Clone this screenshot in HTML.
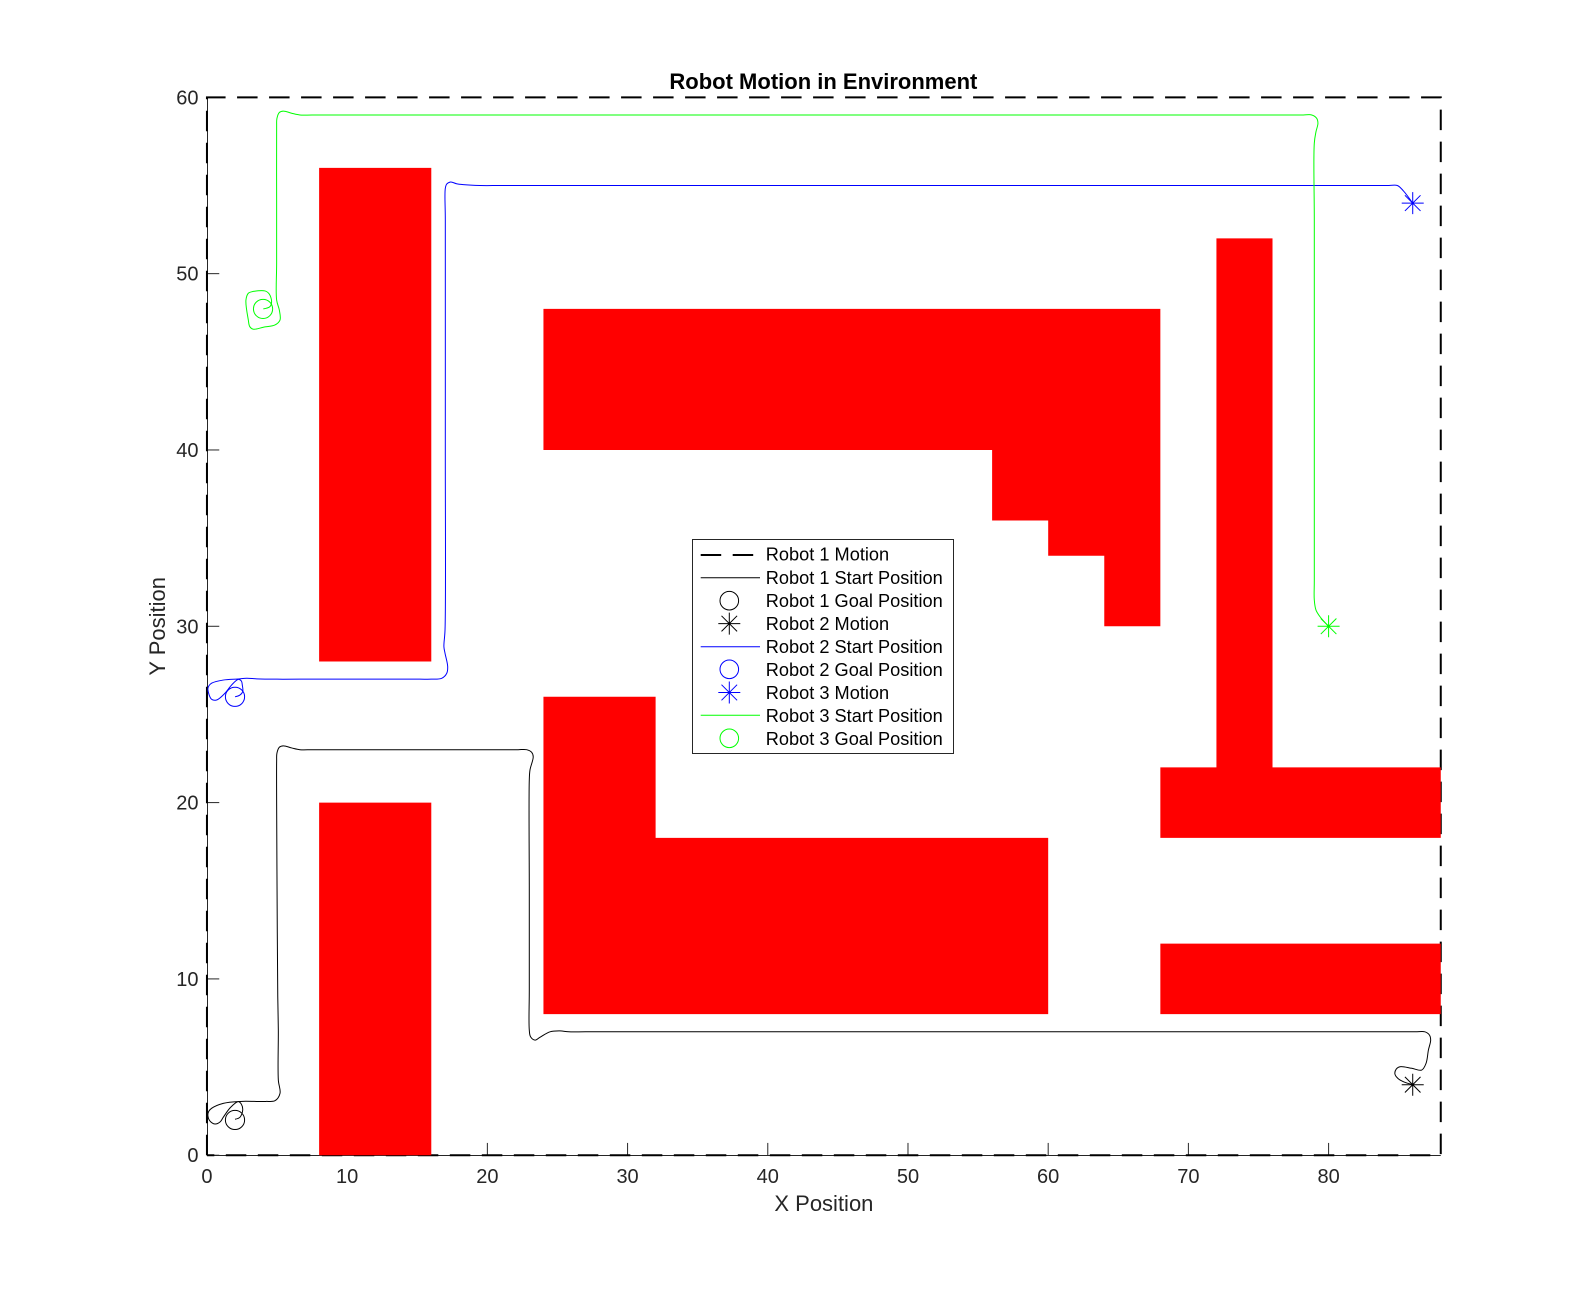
<!DOCTYPE html>
<html lang="en">
<head>
<meta charset="utf-8">
<title>Robot Motion in Environment</title>
<style>
html,body{margin:0;padding:0;background:#fff;}
svg{display:block;position:absolute;left:0;top:0;font-family:"Liberation Sans",Arial,sans-serif;}
</style>
</head>
<body>
<svg id="chart" xmlns="http://www.w3.org/2000/svg" width="1592" height="1298" viewBox="0 0 1592 1298">
<rect x="0" y="0" width="1592" height="1298" fill="#fff"/>
<g id="axes-layer"></g>
<g id="boundary-layer"></g>
<g id="obstacle-layer"></g>
<g id="path-layer"></g>
<g id="marker-layer"></g>
<text x="823.4" y="89" font-size="22" font-weight="bold" text-anchor="middle" fill="#000">Robot Motion in Environment</text>
<text x="823.9" y="1211" font-size="22" text-anchor="middle" fill="#262626">X Position</text>
<text transform="translate(165,626.3) rotate(-90)" font-size="22" text-anchor="middle" fill="#262626">Y Position</text>
<g font-size="18.2" fill="#000">
<rect x="692.5" y="539.5" width="261" height="214" fill="#fff" stroke="#262626" stroke-width="1"/>
<g>
<line x1="700.7" x2="760" y1="555" y2="555" stroke="#000" stroke-width="2" stroke-dasharray="20.5 11.5"/>
<text x="765.8" y="560.7">Robot 1 Motion</text>
</g>
<g>
<line x1="700.7" x2="760" y1="577.7" y2="577.7" stroke="#000" stroke-width="1"/>
<text x="765.8" y="584.2">Robot 1 Start Position</text>
</g>
<g>
<circle cx="729.3" cy="600.7" r="9.3" fill="none" stroke="#000" stroke-width="1"/>
<text x="765.8" y="607.2">Robot 1 Goal Position</text>
</g>
<g>
<path d="M718.3 623.6H740.3M729.3 612.6V634.6M721.5 615.8L737.1 631.4M721.5 631.4L737.1 615.8" stroke="#000" stroke-width="1" fill="none"/>
<text x="765.8" y="630.1">Robot 2 Motion</text>
</g>
<g>
<line x1="700.7" x2="760" y1="646.7" y2="646.7" stroke="#00f" stroke-width="1"/>
<text x="765.8" y="653.2">Robot 2 Start Position</text>
</g>
<g>
<circle cx="729.3" cy="669.3" r="9.3" fill="none" stroke="#00f" stroke-width="1"/>
<text x="765.8" y="675.8">Robot 2 Goal Position</text>
</g>
<g>
<path d="M718.3 692.5H740.3M729.3 681.5V703.5M721.5 684.7L737.1 700.3M721.5 700.3L737.1 684.7" stroke="#00f" stroke-width="1" fill="none"/>
<text x="765.8" y="699">Robot 3 Motion</text>
</g>
<g>
<line x1="700.7" x2="760" y1="715.3" y2="715.3" stroke="#0f0" stroke-width="1"/>
<text x="765.8" y="721.8">Robot 3 Start Position</text>
</g>
<g>
<circle cx="729.3" cy="738.3" r="9.3" fill="none" stroke="#0f0" stroke-width="1"/>
<text x="765.8" y="744.8">Robot 3 Goal Position</text>
</g>
</g>
</svg>
<script>
var xTicks = [0, 10, 20, 30, 40, 50, 60, 70, 80];
var yTicks = [0, 10, 20, 30, 40, 50, 60];
var xLimits = [0, 88];
var yLimits = [0, 60];

var boundaryX = [0, 0, 88, 88, 0];
var boundaryY = [0, 60, 60, 0, 0];

var obstacleLeftTopX = [8, 16, 16, 8];
var obstacleLeftTopY = [28, 28, 56, 56];
var obstacleLeftBottomX = [8, 16, 16, 8];
var obstacleLeftBottomY = [0, 0, 20, 20];
var obstacleUpperX = [24, 68, 68, 64, 64, 60, 60, 56, 56, 24];
var obstacleUpperY = [48, 48, 30, 30, 34, 34, 36, 36, 40, 40];
var obstacleLowerX = [24, 32, 32, 60, 60, 24];
var obstacleLowerY = [26, 26, 18, 18, 8, 8];
var obstacleTeeX = [72, 76, 76, 88, 88, 68, 68, 72];
var obstacleTeeY = [52, 52, 22, 22, 18, 18, 22, 22];
var obstacleRightBottomX = [68, 88, 88, 68];
var obstacleRightBottomY = [12, 12, 8, 8];

var robot1PathX = [86, 85.33, 84.95, 84.73, 84.82, 85.09, 85.93, 86.64, 86.95, 87.12, 87.28, 87.19, 86.87, 86.2, 85, 82, 76, 60, 40, 30, 27, 25.8, 25.18, 24.47, 23.75, 23.4, 23.08, 22.99, 22.99, 22.99, 22.99, 23.04, 23.27, 23.16, 22.8, 22.2, 21.2, 19, 15, 9, 7.5, 6.63, 6.04, 5.44, 5.16, 4.99, 4.97, 4.97, 5.0, 5.05, 5.09, 5.09, 5.21, 4.85, 4.2, 3.54, 2.35, 1.16, 0.33, 0.12, 0.07, 0.2, 0.57, 0.95, 1.16, 1.69, 2.23, 2.45, 2.55, 2.35, 2.0];
var robot1PathY = [4, 4.17, 4.35, 4.61, 4.88, 5.02, 4.93, 4.83, 5.21, 5.97, 6.53, 6.82, 7.0, 7.0, 7.0, 7.0, 7.0, 7.0, 7.0, 7.0, 7.0, 7.0, 7.05, 7.0, 6.69, 6.53, 6.72, 7.1, 9.37, 15, 21.28, 21.85, 22.6, 22.85, 23.0, 23.0, 23.0, 23.0, 23.0, 23.0, 23.0, 23.0, 23.1, 23.22, 23.14, 22.8, 22.34, 20, 15, 9, 7.1, 4.27, 3.51, 3.09, 3.05, 3.05, 3.05, 2.94, 2.66, 2.48, 2.22, 1.95, 1.77, 1.9, 2.15, 2.72, 3.04, 2.9, 2.56, 2.15, 2.04];

var robot2PathX = [86, 85.33, 84.9, 84.3, 83, 80, 70, 50, 30, 25, 21, 19.47, 18.28, 17.8, 17.38, 17.1, 17.0, 17.0, 17.0, 16.98, 16.9, 16.98, 17.17, 17.1, 16.74, 16.0, 15.19, 13, 10, 6.63, 5, 3.54, 2.83, 2.23, 1.16, 0.33, 0.12, 0.07, 0.33, 0.69, 1.28, 1.76, 2.23, 2.45, 2.52, 2.55, 2.35, 2.0];
var robot2PathY = [54, 54.7, 55.0, 55.0, 55, 55, 55, 55, 55, 55, 55, 55.0, 55.05, 55.1, 55.2, 55.08, 54.84, 53.05, 40, 29.8, 28.84, 28.47, 27.71, 27.33, 27.05, 27.0, 27.0, 27, 27, 27.0, 27.0, 27.02, 27.05, 27.01, 26.95, 26.77, 26.6, 26.39, 25.86, 25.82, 26.2, 26.67, 26.99, 26.9, 26.67, 26.29, 26.1, 26.0];

var robot3PathX = [80, 79.39, 79.1, 78.98, 78.98, 78.98, 78.98, 78.98, 79.1, 79.24, 79.15, 78.8, 78.2, 77, 74, 60, 40, 20, 10, 7.5, 6.63, 6.04, 5.44, 5.16, 4.99, 4.97, 4.97, 4.97, 4.97, 5.16, 5.21, 4.85, 4.02, 3.3, 3.05, 2.95, 2.78, 2.95, 3.19, 4.14, 4.44, 4.61, 4.49, 4.02];
var robot3PathY = [30, 30.54, 30.92, 31.49, 32.62, 45, 53.05, 57.4, 58.05, 58.53, 58.81, 59.0, 59.0, 59.0, 59, 59, 59, 59, 59, 59, 59.0, 59.1, 59.22, 59.14, 58.8, 58.34, 54, 50.6, 48.5, 47.94, 47.37, 47.09, 46.96, 46.85, 47.0, 47.37, 48.5, 48.89, 48.97, 49.02, 48.85, 48.41, 48.13, 48.0];

var robotStartX = [86, 86, 80];
var robotStartY = [4, 54, 30];
var robotGoalX = [2, 2, 4];
var robotGoalY = [2, 26, 48];
var robotNames = ['robot-1', 'robot-2', 'robot-3'];

var NS = 'http://www.w3.org/2000/svg';
var plotLeft = 206.96, plotRight = 1440.76, plotTop = 97.34, plotBottom = 1155.22;
var robotColors = ['#000', '#00f', '#0f0'];

function xAxis(v) {
  return plotLeft + (v - xLimits[0]) / (xLimits[1] - xLimits[0]) * (plotRight - plotLeft);
}
function yAxis(v) {
  return plotBottom - (v - yLimits[0]) / (yLimits[1] - yLimits[0]) * (plotBottom - plotTop);
}
function make(tag, parent) {
  var el = document.createElementNS(NS, tag);
  parent.appendChild(el);
  return el;
}
function polyPoints(xs, ys) {
  var out = [];
  for (var i = 0; i < xs.length; i++) {
    out.push(xAxis(xs[i]).toFixed(2) + ',' + yAxis(ys[i]).toFixed(2));
  }
  return out.join(' ');
}
function smoothPath(xs, ys) {
  var p = [];
  for (var i = 0; i < xs.length; i++) {
    p.push([xAxis(xs[i]), yAxis(ys[i])]);
  }
  function dist(a, b) {
    return Math.sqrt(Math.sqrt((a[0] - b[0]) * (a[0] - b[0]) + (a[1] - b[1]) * (a[1] - b[1])));
  }
  var d = 'M' + p[0][0].toFixed(2) + ' ' + p[0][1].toFixed(2);
  for (var j = 0; j < p.length - 1; j++) {
    var p0 = p[Math.max(j - 1, 0)], p1 = p[j], p2 = p[j + 1], p3 = p[Math.min(j + 2, p.length - 1)];
    var d1 = dist(p0, p1), d2 = dist(p1, p2), d3 = dist(p2, p3);
    var c1 = [p1[0], p1[1]], c2 = [p2[0], p2[1]];
    for (var k = 0; k < 2; k++) {
      if (d1 > 0) {
        c1[k] = (d1 * d1 * p2[k] - d2 * d2 * p0[k] + (2 * d1 * d1 + 3 * d1 * d2 + d2 * d2) * p1[k]) / (3 * d1 * (d1 + d2));
      }
      if (d3 > 0) {
        c2[k] = (d3 * d3 * p1[k] - d2 * d2 * p3[k] + (2 * d3 * d3 + 3 * d3 * d2 + d2 * d2) * p2[k]) / (3 * d3 * (d3 + d2));
      }
    }
    d += 'C' + c1[0].toFixed(2) + ' ' + c1[1].toFixed(2) + ' ' + c2[0].toFixed(2) + ' ' + c2[1].toFixed(2) + ' ' + p2[0].toFixed(2) + ' ' + p2[1].toFixed(2);
  }
  return d;
}

var axesLayer = document.getElementById('axes-layer');
var boundaryLayer = document.getElementById('boundary-layer');
var obstacleLayer = document.getElementById('obstacle-layer');
var pathLayer = document.getElementById('path-layer');
var markerLayer = document.getElementById('marker-layer');

var xAxisLine = make('line', axesLayer);


xAxisLine.setAttribute('x1', plotLeft);
xAxisLine.setAttribute('x2', plotRight);
xAxisLine.setAttribute('y1', 1155.5);
xAxisLine.setAttribute('y2', 1155.5);
xAxisLine.setAttribute('stroke', '#262626');

var yAxisLine = make('line', axesLayer);


yAxisLine.setAttribute('x1', 207.5);
yAxisLine.setAttribute('x2', 207.5);
yAxisLine.setAttribute('y1', plotTop);
yAxisLine.setAttribute('y2', plotBottom);
yAxisLine.setAttribute('stroke', '#262626');

xTicks.forEach(function (t) {
  var tick = make('line', axesLayer);
  
  
  tick.setAttribute('x1', xAxis(t));
  tick.setAttribute('x2', xAxis(t));
  tick.setAttribute('y1', plotBottom);
  tick.setAttribute('y2', plotBottom - 12.3);
  tick.setAttribute('stroke', '#262626');
  var label = make('text', axesLayer);
  
  
  label.setAttribute('x', xAxis(t));
  label.setAttribute('y', 1183);
  label.setAttribute('font-size', '20');
  label.setAttribute('text-anchor', 'middle');
  label.setAttribute('fill', '#262626');
  label.textContent = t;
});

yTicks.forEach(function (t) {
  var tick = make('line', axesLayer);
  
  
  tick.setAttribute('x1', plotLeft);
  tick.setAttribute('x2', plotLeft + 12.3);
  tick.setAttribute('y1', yAxis(t));
  tick.setAttribute('y2', yAxis(t));
  tick.setAttribute('stroke', '#262626');
  var label = make('text', axesLayer);
  
  
  label.setAttribute('x', 198.5);
  label.setAttribute('y', yAxis(t) + 7);
  label.setAttribute('font-size', '20');
  label.setAttribute('text-anchor', 'end');
  label.setAttribute('fill', '#262626');
  label.textContent = t;
});

var boundary = make('polyline', boundaryLayer);


boundary.setAttribute('points', polyPoints(boundaryX, boundaryY));
boundary.setAttribute('fill', 'none');
boundary.setAttribute('stroke', '#000');
boundary.setAttribute('stroke-width', '2');
boundary.setAttribute('stroke-dasharray', '20.5 11.5');

var obstacleShapes = [
  ['obstacle-left-top', obstacleLeftTopX, obstacleLeftTopY],
  ['obstacle-left-bottom', obstacleLeftBottomX, obstacleLeftBottomY],
  ['obstacle-upper', obstacleUpperX, obstacleUpperY],
  ['obstacle-lower', obstacleLowerX, obstacleLowerY],
  ['obstacle-tee', obstacleTeeX, obstacleTeeY],
  ['obstacle-right-bottom', obstacleRightBottomX, obstacleRightBottomY]
];
obstacleShapes.forEach(function (s) {
  var poly = make('polygon', obstacleLayer);
  
  
  poly.setAttribute('points', polyPoints(s[1], s[2]));
  poly.setAttribute('fill', '#f00');
});

var robotPaths = [
  [robot1PathX, robot1PathY],
  [robot2PathX, robot2PathY],
  [robot3PathX, robot3PathY]
];
robotPaths.forEach(function (r, i) {
  var line = make('path', pathLayer);
  
  
  line.setAttribute('d', smoothPath(r[0], r[1]));
  line.setAttribute('fill', 'none');
  line.setAttribute('stroke', robotColors[i]);
  line.setAttribute('stroke-width', '1');
});

robotGoalX.forEach(function (gx, i) {
  var goal = make('circle', markerLayer);
  
  
  goal.setAttribute('cx', xAxis(gx));
  goal.setAttribute('cy', yAxis(robotGoalY[i]));
  goal.setAttribute('r', '9.6');
  goal.setAttribute('fill', 'none');
  goal.setAttribute('stroke', robotColors[i]);
  goal.setAttribute('stroke-width', '1');
});

robotStartX.forEach(function (sx, i) {
  var cx = xAxis(sx), cy = yAxis(robotStartY[i]);
  var a = 11, b = 7.8;
  var star = make('path', markerLayer);
  
  
  star.setAttribute('d', 'M' + (cx - a) + ' ' + cy + 'H' + (cx + a) + 'M' + cx + ' ' + (cy - a) + 'V' + (cy + a) + 'M' + (cx - b) + ' ' + (cy - b) + 'L' + (cx + b) + ' ' + (cy + b) + 'M' + (cx - b) + ' ' + (cy + b) + 'L' + (cx + b) + ' ' + (cy - b));
  star.setAttribute('fill', 'none');
  star.setAttribute('stroke', robotColors[i]);
  star.setAttribute('stroke-width', '1');
});
</script>
</body>
</html>
